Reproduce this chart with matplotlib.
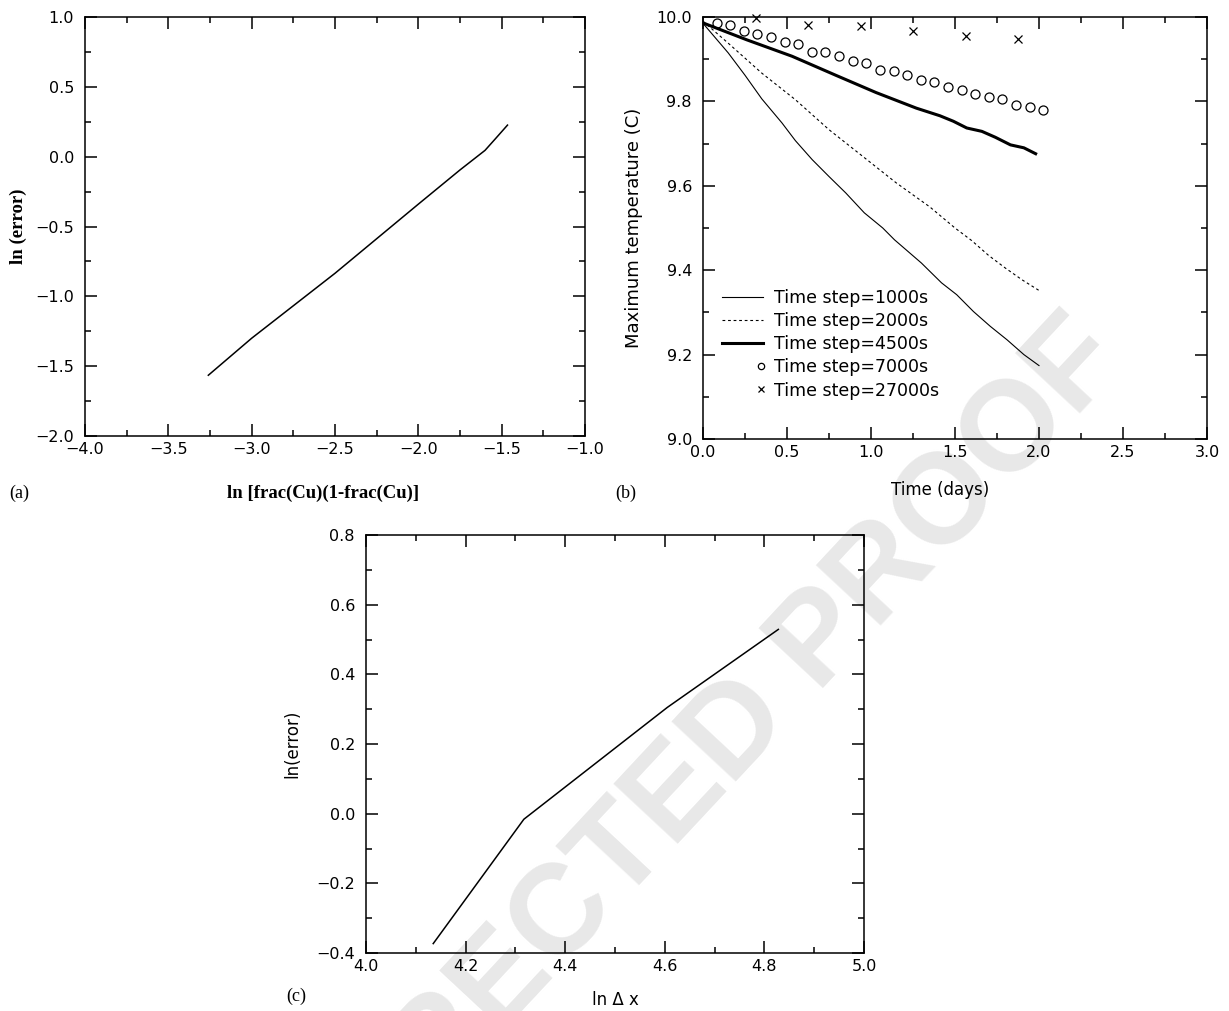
import numpy as np
import matplotlib.pyplot as plt
from matplotlib.ticker import MultipleLocator, FuncFormatter
from matplotlib.legend_handler import HandlerLine2DCompound

# ---- data ----
# (a) ln error vs ln[frac(Cu)(1-frac(Cu))]
a_x = [-3.26, -3.0, -2.5, -2.0, -1.75, -1.6, -1.54, -1.465]
a_y = [-1.565, -1.30, -0.835, -0.34, -0.095, 0.045, 0.125, 0.226]

# (b) maximum temperature vs time for several time steps
t_1000 = [0.0, 0.15, 0.25, 0.35, 0.47, 0.55, 0.65, 0.75, 0.85, 0.96, 1.07,
          1.14, 1.30, 1.42, 1.51, 1.61, 1.71, 1.81, 1.91, 2.0]
T_1000 = [9.985, 9.915, 9.862, 9.806, 9.749, 9.707, 9.662, 9.622, 9.583, 9.536, 9.500,
          9.472, 9.417, 9.370, 9.342, 9.302, 9.267, 9.235, 9.200, 9.174]
t_2000 = [0.0, 0.15, 0.35, 0.55, 0.75, 0.95, 1.15, 1.35, 1.5, 1.6, 1.7, 1.8, 1.9, 2.0]
T_2000 = [9.99, 9.938, 9.867, 9.804, 9.733, 9.670, 9.607, 9.550, 9.50, 9.47, 9.435,
          9.405, 9.377, 9.352]
t_4500 = [0.0, 0.26, 0.53, 0.79, 1.03, 1.27, 1.41, 1.49, 1.57, 1.66, 1.74, 1.83, 1.91, 1.98]
T_4500 = [9.986, 9.946, 9.907, 9.862, 9.821, 9.784, 9.766, 9.753, 9.737, 9.729, 9.715,
          9.697, 9.690, 9.676]
t_7000 = [0.081, 0.162, 0.243, 0.324, 0.405, 0.486, 0.567, 0.648, 0.729, 0.810, 0.891,
          0.972, 1.053, 1.134, 1.215, 1.296, 1.377, 1.458, 1.539, 1.620, 1.701, 1.782,
          1.863, 1.944, 2.025]
T_7000 = [9.986, 9.982, 9.966, 9.960, 9.953, 9.941, 9.936, 9.918, 9.917, 9.907, 9.896,
          9.892, 9.875, 9.873, 9.863, 9.851, 9.847, 9.833, 9.828, 9.818, 9.810, 9.806,
          9.792, 9.787, 9.780]
t_27000 = [0.3125, 0.625, 0.9375, 1.25, 1.5625, 1.875]
T_27000 = [9.998, 9.982, 9.979, 9.968, 9.956, 9.948]

# (c) ln error vs ln dx
c_x = [4.135, 4.317, 4.605, 4.828]
c_y = [-0.373, -0.016, 0.305, 0.529]

W, H = 1229, 1011
sans = 'DejaVu Sans'
serif = 'Liberation Serif'


def box(left, top, right, bottom):
    return [left / W, 1 - bottom / H, (right - left) / W, (bottom - top) / H]


def fmt(v, pos):
    s = f'{v:.1f}'
    if s == '-0.0':
        s = '0.0'
    return s.replace('-', '\u2212')


def style(ax, xlim, ylim, xmaj, ymaj):
    ax.set_xlim(*xlim)
    ax.set_ylim(*ylim)
    ax.xaxis.set_major_locator(MultipleLocator(xmaj))
    ax.xaxis.set_minor_locator(MultipleLocator(xmaj / 2))
    ax.yaxis.set_major_locator(MultipleLocator(ymaj))
    ax.yaxis.set_minor_locator(MultipleLocator(ymaj / 2))
    ax.xaxis.set_major_formatter(FuncFormatter(fmt))
    ax.yaxis.set_major_formatter(FuncFormatter(fmt))
    ax.tick_params(which='both', direction='in', top=True, right=True, width=1.1,
                   labelsize=11.5, colors='black')
    ax.tick_params(which='major', length=8.6)
    ax.tick_params(which='minor', length=4.3)
    ax.tick_params(axis='x', pad=4)
    ax.tick_params(axis='y', pad=8)
    for sp in ax.spines.values():
        sp.set_linewidth(1.1)
    ax.set_facecolor('none')
    for lab in ax.get_xticklabels() + ax.get_yticklabels():
        lab.set_fontfamily(sans)


class EndMarker(HandlerLine2DCompound):
    # marker sits at the right end of the handle, next to the label
    def get_xdata(self, legend, xdescent, ydescent, width, height, fontsize):
        xdata = np.array([-xdescent, -xdescent + width])
        return xdata, np.array([-xdescent + width - 0.15 * fontsize])


fig = plt.figure(figsize=(W / 100, H / 100), dpi=100)
fig.patch.set_facecolor('white')

# watermark
fig.text(0.486, 0.128, 'UNCORRECTED PROOF', fontsize=92, fontweight='bold',
         family='Liberation Sans', color='#e8e8e8', rotation=47,
         rotation_mode='anchor', ha='center', va='center', zorder=-5)

# ---------- (a) ----------
ax1 = fig.add_axes(box(85, 17, 585, 436))
ax1.plot(a_x, a_y, color='black', lw=1.1)
style(ax1, (-4, -1), (-2, 1), 0.5, 0.5)
ax1.set_xlabel('ln [frac(Cu)(1-frac(Cu)]', family=serif, fontweight='bold', fontsize=13.5)
ax1.set_ylabel('ln (error)', family=serif, fontweight='bold', fontsize=13.5)
ax1.xaxis.set_label_coords(0.476, -0.117)
ax1.yaxis.set_label_coords(-0.115, 0.5)

# ---------- (b) ----------
ax2 = fig.add_axes(box(703, 17, 1207, 439))
l1, = ax2.plot(t_1000, T_1000, color='black', lw=0.8, label='Time step=1000s')
l2, = ax2.plot(t_2000, T_2000, color='black', lw=0.8, ls=(0, (2.5, 2.5)),
               label='Time step=2000s')
l3, = ax2.plot(t_4500, T_4500, color='black', lw=2.2, label='Time step=4500s')
l4, = ax2.plot(t_7000, T_7000, ls='none', marker='o', ms=6.5, mfc='none', mec='black',
               mew=0.9, label='Time step=7000s', clip_on=False)
l5, = ax2.plot(t_27000, T_27000, ls='none', marker='x', ms=6, mec='black', mew=0.9,
               label='Time step=27000s', clip_on=False)
style(ax2, (0, 3), (9, 10), 0.5, 0.2)
ax2.set_xlabel('Time (days)', family=sans, fontsize=12)
ax2.set_ylabel('Maximum temperature (C)', family=sans, fontsize=13)
ax2.xaxis.set_label_coords(0.47, -0.1)
ax2.yaxis.set_label_coords(-0.12, 0.5)
leg = ax2.legend(handles=[l1, l2, l3, l4, l5], loc='lower left',
                 bbox_to_anchor=(0.02, 0.073), frameon=False, fontsize=12.5,
                 handlelength=2.4, handletextpad=0.6, labelspacing=0.3,
                 borderpad=0, markerscale=0.7,
                 handler_map={l4: EndMarker(), l5: EndMarker()})
for txt in leg.get_texts():
    txt.set_fontfamily(sans)

# ---------- (c) ----------
ax3 = fig.add_axes(box(366, 535, 864, 953))
ax3.plot(c_x, c_y, color='black', lw=1.1)
style(ax3, (4, 5), (-0.4, 0.8), 0.2, 0.2)
ax3.set_xlabel('ln \u0394 x', family=sans, fontsize=12)
ax3.set_ylabel('ln(error)', family=sans, fontsize=12)
ax3.xaxis.set_label_coords(0.5, -0.09)
ax3.yaxis.set_label_coords(-0.13, 0.5)

# panel letters
for lab, x, y in [('(a)', 19, 493), ('(b)', 626, 493), ('(c)', 296, 996)]:
    fig.text(x / W, 1 - y / H, lab, family=serif, fontsize=13, ha='center', va='center')

fig.savefig('out.png', dpi=100, facecolor='white')
